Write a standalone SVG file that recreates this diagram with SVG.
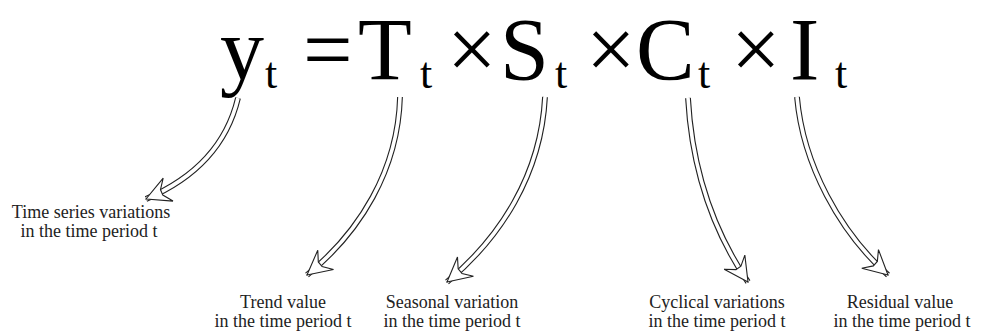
<svg xmlns="http://www.w3.org/2000/svg" width="981" height="333" viewBox="0 0 981 333">
<style>
.big{font-family:"Liberation Serif","Times New Roman",serif;font-size:88px;fill:#000}
.sub{font-family:"Liberation Serif","Times New Roman",serif;font-size:44px;fill:#000}
.lbl{font-family:"Liberation Serif","Times New Roman",serif;font-size:18px;fill:#222;text-anchor:middle}
.outer{fill:none;stroke:#222;stroke-width:5.8}
.inner{fill:none;stroke:#fff;stroke-width:3.6}
</style>
<defs>
<marker id="hd" markerUnits="userSpaceOnUse" orient="auto" refX="0" refY="0" markerWidth="30" markerHeight="30" overflow="visible">
<path d="M0,0 L-24,-12.5 L-17,-3 L-17,3 L-24,12.5 Z" fill="#fff" stroke="#222" stroke-width="1.1" stroke-linejoin="miter"/>
</marker>
</defs>
<rect width="981" height="333" fill="#fff"/>
<g id="equation">
<text class="big" x="220" y="79">y</text><text class="sub" x="265" y="88">t</text>
<text class="big" x="303" y="79">=</text>
<text class="big" x="358" y="79">T</text><text class="sub" x="420" y="88">t</text>
<text class="big" x="447" y="79">×</text>
<text class="big" x="500" y="79">S</text><text class="sub" x="555" y="88">t</text>
<text class="big" x="586" y="79">×</text>
<text class="big" x="636" y="79">C</text><text class="sub" x="698" y="88">t</text>
<text class="big" x="731" y="79">×</text>
<text class="big" x="790" y="79">I</text><text class="sub" x="835" y="88">t</text>
</g>
<g id="connectors">
<g><path class="outer" d="M238,98 C228,140 200,176 146,199"/><path class="inner" d="M238,98 C228,140 200,176 146,199" marker-end="url(#hd)"/></g>
<g><path class="outer" d="M400,97 C398,170 360,232 307,275"/><path class="inner" d="M400,97 C398,170 360,232 307,275" marker-end="url(#hd)"/></g>
<g><path class="outer" d="M545,97 C541,175 500,238 447,282"/><path class="inner" d="M545,97 C541,175 500,238 447,282" marker-end="url(#hd)"/></g>
<g><path class="outer" d="M688,98 C692,170 714,232 748,282"/><path class="inner" d="M688,98 C692,170 714,232 748,282" marker-end="url(#hd)"/></g>
<g><path class="outer" d="M797,97 C803,165 840,232 888,275"/><path class="inner" d="M797,97 C803,165 840,232 888,275" marker-end="url(#hd)"/></g>
</g>
<g id="label-y"><text class="lbl" x="91" y="218">Time series variations</text><text class="lbl" x="89" y="237">in the time period t</text></g>
<g id="label-T"><text class="lbl" x="283" y="308">Trend value</text><text class="lbl" x="283" y="327">in the time period t</text></g>
<g id="label-S"><text class="lbl" x="452" y="308">Seasonal variation</text><text class="lbl" x="452" y="327">in the time period t</text></g>
<g id="label-C"><text class="lbl" x="717" y="308">Cyclical variations</text><text class="lbl" x="717" y="327">in the time period t</text></g>
<g id="label-I"><text class="lbl" x="900" y="308">Residual value</text><text class="lbl" x="902" y="327">in the time period t</text></g>
</svg>
